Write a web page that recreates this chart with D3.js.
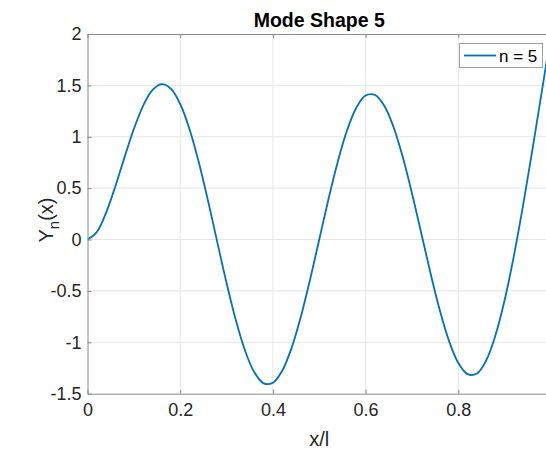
<!DOCTYPE html>
<html>
<head>
<meta charset="utf-8">
<script src="https://cdn.jsdelivr.net/npm/d3@7"></script>
<style>
  html, body { margin: 0; padding: 0; background: #fff; }
  svg { display: block; font-family: "Liberation Sans", Arial, Helvetica, sans-serif; }
</style>
</head>
<body>
<svg id="chart" width="546" height="449"></svg>
<script>
// Data
const xValues = [0.00,0.02,0.04,0.06,0.08,0.10,0.12,0.14,0.16,0.18,0.20,0.22,0.24,0.26,0.28,0.30,0.32,0.34,0.36,0.38,0.40,0.42,0.44,0.46,0.48,0.50,0.52,0.54,0.56,0.58,0.60,0.62,0.64,0.66,0.68,0.70,0.72,0.74,0.76,0.78,0.80,0.82,0.84,0.86,0.88,0.90,0.92,0.94,0.96,0.98,1.00];
const yValues = [0.000,0.072,0.260,0.517,0.802,1.075,1.301,1.453,1.512,1.467,1.319,1.076,0.754,0.377,-0.025,-0.423,-0.784,-1.082,-1.292,-1.399,-1.393,-1.277,-1.059,-0.756,-0.393,0.001,0.395,0.758,1.063,1.283,1.401,1.408,1.304,1.098,0.806,0.451,0.064,-0.326,-0.686,-0.986,-1.201,-1.310,-1.304,-1.177,-0.934,-0.588,-0.156,0.339,0.877,1.435,2.000];
const xTicks = [0, 0.2, 0.4, 0.6, 0.8];
const xTickLabels = ["0", "0.2", "0.4", "0.6", "0.8"];
const yTicks = [-1.5, -1, -0.5, 0, 0.5, 1, 1.5, 2];
const yTickLabels = ["-1.5", "-1", "-0.5", "0", "0.5", "1", "1.5", "2"];
const seriesName = "n = 5";
const titleText = "Mode Shape 5";
const xLabelText = "x/l";

(function () {
const svg = d3.select("#chart");
const pL = 87.5, pR = 551, pT = 34, pB = 393.7;
const x = d3.scaleLinear().domain([0, 1]).range([pL, pR]);
const y = d3.scaleLinear().domain([-1.5, 2]).range([pB, pT]);
const axisColor = "#8a8a8a";
const gridColor = "#e6e6e6";
const lineColor = "#0072BD";

// grid
const grid = svg.append("g");
grid.selectAll("line.gx").data(xTicks.slice(1)).enter().append("line")
  .attr("x1", d => x(d)).attr("x2", d => x(d)).attr("y1", pT).attr("y2", pB)
  .attr("stroke", gridColor).attr("stroke-width", 1);
grid.selectAll("line.gy").data(yTicks.slice(1, -1)).enter().append("line")
  .attr("x1", pL).attr("x2", pR).attr("y1", d => y(d)).attr("y2", d => y(d))
  .attr("stroke", gridColor).attr("stroke-width", 1);

// clip
svg.append("clipPath").attr("id", "clip").append("rect")
  .attr("x", pL).attr("y", pT).attr("width", pR - pL).attr("height", pB - pT);

// line
const data = xValues.map((v, i) => [v, yValues[i]]);
svg.append("path").datum(data)
  .attr("clip-path", "url(#clip)")
  .attr("fill", "none").attr("stroke", lineColor).attr("stroke-width", 1.8)
  .attr("d", d3.line().x(d => x(d[0])).y(d => y(d[1])).curve(d3.curveCatmullRom.alpha(0.5)));

// axes
const fmtX = (d) => xTickLabels[xTicks.indexOf(d)];
const fmtY = (d) => yTickLabels[yTicks.indexOf(d)];
const xAxis = svg.append("g").attr("transform", `translate(0,${pB})`)
  .call(d3.axisBottom(x).tickValues(xTicks).tickFormat(fmtX).tickSizeInner(-4).tickSizeOuter(0).tickPadding(10));
const xAxisTop = svg.append("g").attr("transform", `translate(0,${pT})`)
  .call(d3.axisTop(x).tickValues(xTicks).tickFormat("").tickSizeInner(-4).tickSizeOuter(0));
const yAxis = svg.append("g").attr("transform", `translate(${pL},0)`)
  .call(d3.axisLeft(y).tickValues(yTicks).tickFormat(fmtY).tickSizeInner(-4).tickSizeOuter(0).tickPadding(6));
[xAxis, xAxisTop, yAxis].forEach(g => {
  g.select(".domain").attr("stroke", axisColor).attr("stroke-width", 1);
  g.selectAll(".tick line").attr("stroke", axisColor).attr("stroke-width", 1);
  g.selectAll(".tick text").attr("fill", "#262626").attr("font-size", 18)
    .attr("font-family", "Liberation Sans, Arial, sans-serif");
});

// title
svg.append("text").attr("x", (pL + pR) / 2).attr("y", 27)
  .attr("text-anchor", "middle").attr("font-size", 19.5).attr("font-weight", "bold")
  .attr("fill", "#000").text(titleText);

// x label
svg.append("text").attr("x", (pL + pR) / 2).attr("y", 446)
  .attr("text-anchor", "middle").attr("font-size", 20).attr("fill", "#262626").text(xLabelText);

// y label with subscript
const yl = svg.append("text").attr("transform", `translate(53,220) rotate(-90)`)
  .attr("text-anchor", "middle").attr("font-size", 20).attr("fill", "#262626");
yl.append("tspan").text("Y");
yl.append("tspan").attr("dy", 6).attr("font-size", 15).text("n");
yl.append("tspan").attr("dy", -6).text("(x)");

// legend
const lg = svg.append("g");
lg.append("rect").attr("x", 459.5).attr("y", 43.5).attr("width", 83).attr("height", 24)
  .attr("fill", "#fff").attr("stroke", "#a0a0a0").attr("stroke-width", 1);
lg.append("line").attr("x1", 464).attr("x2", 496).attr("y1", 55.5).attr("y2", 55.5)
  .attr("stroke", lineColor).attr("stroke-width", 1.8);
lg.append("text").attr("x", 499).attr("y", 62).attr("font-size", 17).attr("fill", "#000").text(seriesName);
})();
</script>
</body>
</html>
